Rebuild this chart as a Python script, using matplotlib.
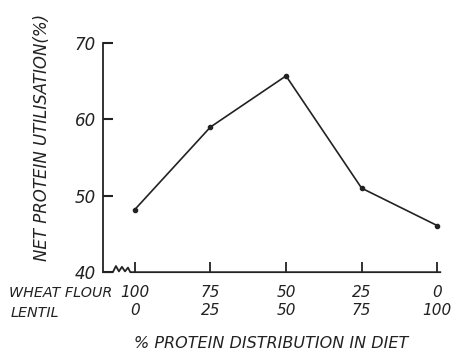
import matplotlib
matplotlib.use('Agg')
import matplotlib.pyplot as plt

# data
wheat_flour = ['100', '75', '50', '25', '0']
lentil = ['0', '25', '50', '75', '100']
npu = [48.2, 59.0, 65.7, 51.0, 46.1]

plt.rcParams['font.family'] = ['DejaVu Sans']
plt.rcParams['font.style'] = 'italic'
ink = '#222222'

fig = plt.figure(figsize=(4.52, 3.53), dpi=100)
ax = fig.add_axes([0.228, 0.229, 0.746, 0.649])

xs = list(range(len(npu)))
ax.plot(xs, npu, color=ink, lw=1.2, marker='o', ms=3)

ax.set_xlim(-0.42, 4.04)
ax.set_ylim(40, 70)

for s in ['top', 'right', 'bottom']:
    ax.spines[s].set_visible(False)
ax.spines['left'].set_linewidth(1.3)
ax.spines['left'].set_color(ink)

# bottom axis line with a break squiggle near the origin
bx = [-0.42, -0.29, -0.25, -0.21, -0.17, -0.13, -0.09, -0.06, 4.04]
by = [40, 40, 40.8, 40.1, 40.7, 40.1, 40.6, 40, 40]
ax.plot(bx, by, color=ink, lw=1.3, clip_on=False)

ax.set_yticks([40, 50, 60, 70])
ax.tick_params(axis='y', direction='in', length=7, width=1.5, colors=ink,
               labelsize=12, pad=5)
ax.set_xticks(xs)
ax.set_xticklabels([a + '\n' + b for a, b in zip(wheat_flour, lentil)],
                   linespacing=1.3)
ax.tick_params(axis='x', direction='in', length=7, width=1.3, colors=ink,
               labelsize=11, pad=9)

fig.text(0.02, 0.170, 'WHEAT FLOUR', fontsize=10.3, color=ink, va='center')
fig.text(0.024, 0.113, 'LENTIL', fontsize=10.3, color=ink, va='center')
fig.text(0.60, 0.028, '% PROTEIN DISTRIBUTION IN DIET', fontsize=11.5,
         color=ink, ha='center', va='center')
fig.text(0.092, 0.61, 'NET PROTEIN UTILISATION(%)', fontsize=12,
         color=ink, rotation=90, ha='center', va='center')

fig.savefig('out.png', dpi=100, facecolor='white')
